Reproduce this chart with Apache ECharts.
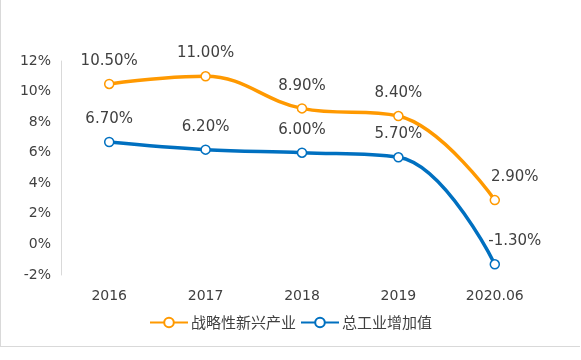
<!DOCTYPE html>
<html><head><meta charset="utf-8">
<script src="https://cdn.jsdelivr.net/npm/echarts@6/dist/echarts.min.js"></script>
<style>html,body{margin:0;padding:0;background:#fff}#c{width:579px;height:346px;border:1px solid #d9d9d9;border-top:none;border-right:none}</style>
</head><body><div id="c"></div>
<script>
const categories = ['2016','2017','2018','2019','2020.06'];
const strategic = [10.5, 11.0, 8.9, 8.4, 2.9];
const industrial = [6.7, 6.2, 6.0, 5.7, -1.3];
const seriesNames = ['战略性新兴产业','总工业增加值'];
const font = '"DejaVu Sans","Noto Sans CJK SC",sans-serif';
const cjk = '"Noto Sans CJK SC",sans-serif';
const chart = echarts.init(document.getElementById('c'));
const lbl = {show:true, position:'top', distance:10, fontSize:15, color:'#404040', fontFamily:font, formatter:p=>p.value.toFixed(2)+'%'};
function withLastOffset(arr){
  return arr.map((v,i)=> i===arr.length-1 ? {value:v, label:{offset:[20,0]}} : v);
}
chart.setOption({
  animation:false,
  grid:{left:60, right:37, top:61, bottom:71},
  legend:{bottom:11, left:'center', itemGap:4, itemWidth:38, itemHeight:12, textStyle:{fontSize:15, color:'#404040', fontFamily:cjk, padding:[0,0,0,-2]}, data:seriesNames},
  xAxis:{type:'category', data:categories, boundaryGap:true, axisLine:{show:false}, axisTick:{show:false}, axisLabel:{fontSize:14, color:'#404040', margin:14, fontFamily:font}},
  yAxis:{type:'value', min:-2, max:12, interval:2, splitLine:{show:false}, axisLine:{show:true, lineStyle:{color:'#d9d9d9', width:1}}, axisTick:{show:false}, axisLabel:{fontSize:14, color:'#404040', margin:10, formatter:v=>v+'%', fontFamily:font}},
  series:[
    {name:seriesNames[0], type:'line', smooth:0.4, data:withLastOffset(strategic), symbol:'circle', symbolSize:9, lineStyle:{width:3.5, color:'#FF9900'}, itemStyle:{color:'#fff', borderColor:'#FF9900', borderWidth:1.5}, label:lbl},
    {name:seriesNames[1], type:'line', smooth:0.4, data:withLastOffset(industrial), symbol:'circle', symbolSize:9, lineStyle:{width:3.5, color:'#0070C0'}, itemStyle:{color:'#fff', borderColor:'#0070C0', borderWidth:1.5}, label:lbl}
  ]
});
</script></body></html>
